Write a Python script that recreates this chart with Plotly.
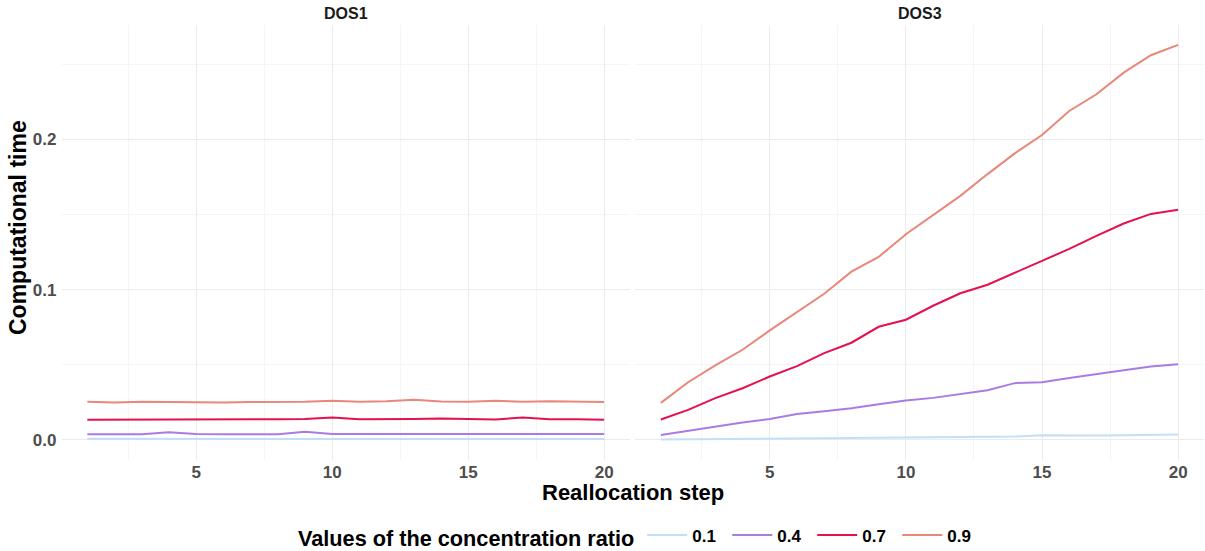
import plotly.graph_objects as go

steps = list(range(1, 21))
ratios = ["0.1", "0.4", "0.7", "0.9"]
colors = ["#C3DFF5", "#A97CE3", "#E5114E", "#E8877A"]

dos1_01 = [0.0008, 0.0007, 0.0007, 0.0007, 0.0006, 0.0006, 0.0006, 0.0006, 0.0006, 0.0006,
           0.0006, 0.0006, 0.0006, 0.0006, 0.0006, 0.0006, 0.0006, 0.0006, 0.0006, 0.0006]
dos1_04 = [0.0038, 0.0037, 0.0038, 0.0052, 0.0039, 0.0038, 0.0038, 0.0038, 0.0054, 0.0040,
           0.0040, 0.0040, 0.0039, 0.0039, 0.0039, 0.0039, 0.0039, 0.0039, 0.0039, 0.0040]
dos1_07 = [0.0135, 0.0135, 0.0134, 0.0135, 0.0135, 0.0135, 0.0138, 0.0138, 0.0140, 0.0150,
           0.0138, 0.0137, 0.0139, 0.0143, 0.0137, 0.0136, 0.0150, 0.0138, 0.0138, 0.0135]
dos1_09 = [0.0254, 0.0249, 0.0254, 0.0252, 0.0252, 0.0249, 0.0253, 0.0254, 0.0254, 0.0261,
           0.0255, 0.0257, 0.0268, 0.0256, 0.0255, 0.0261, 0.0254, 0.0258, 0.0258, 0.0253]

dos3_01 = [0.0003, 0.0004, 0.0005, 0.0006, 0.0008, 0.0010, 0.0011, 0.0012, 0.0014, 0.0016,
           0.0018, 0.0020, 0.0021, 0.0023, 0.0031, 0.0029, 0.0030, 0.0032, 0.0034, 0.0036]
dos3_04 = [0.0033, 0.0062, 0.0089, 0.0116, 0.0140, 0.0173, 0.0191, 0.0211, 0.0238, 0.0262,
           0.0280, 0.0307, 0.0331, 0.0378, 0.0384, 0.0413, 0.0440, 0.0464, 0.0489, 0.0504]
dos3_07 = [0.0136, 0.0200, 0.0278, 0.0344, 0.0422, 0.0491, 0.0578, 0.0647, 0.0753, 0.0800,
           0.0893, 0.0976, 0.1033, 0.1113, 0.1196, 0.1271, 0.1358, 0.1440, 0.1504, 0.1531]
dos3_09 = [0.0247, 0.0384, 0.0496, 0.0600, 0.0729, 0.0851, 0.0973, 0.1120, 0.1218, 0.1369,
           0.1496, 0.1624, 0.1769, 0.1907, 0.2029, 0.2189, 0.2300, 0.2444, 0.2560, 0.2629]

panels = ["DOS1", "DOS3"]
x_ticks = [5, 10, 15, 20]
y_ticks = [0.0, 0.1, 0.2]
y_tick_labels = ["0.0", "0.1", "0.2"]

dos1 = [dos1_01, dos1_04, dos1_07, dos1_09]
dos3 = [dos3_01, dos3_04, dos3_07, dos3_09]

FONT = "Liberation Sans, Arial, sans-serif"

fig = go.Figure()
for i, r in enumerate(ratios):
    fig.add_trace(go.Scatter(x=steps, y=dos1[i], mode="lines", name=r, legendgroup=r,
                             line=dict(color=colors[i], width=2), xaxis="x", yaxis="y"))
    fig.add_trace(go.Scatter(x=steps, y=dos3[i], mode="lines", name=r, legendgroup=r,
                             showlegend=False,
                             line=dict(color=colors[i], width=2), xaxis="x2", yaxis="y2"))

W, H = 1205, 551
ydom = [1 - 459.8 / H, 1 - 25 / H]
grid_major = "#EBEBEB"
grid_minor = "#F5F5F5"
tickfont = dict(family=FONT, size=17, color="#4D4D4D", weight="bold")

xcommon = dict(range=[0.05, 20.95], tickmode="array", tickvals=x_ticks,
               ticktext=[str(v) for v in x_ticks], showgrid=True, gridcolor=grid_major,
               gridwidth=1, zeroline=False, showline=False, ticks="", tickfont=tickfont,
               minor=dict(tick0=0, dtick=2.5, showgrid=True, gridcolor=grid_minor, gridwidth=1),
               fixedrange=True, automargin=False)
ycommon = dict(range=[-0.0132, 0.2761], domain=ydom, tickmode="array", tickvals=y_ticks,
               ticktext=y_tick_labels, showgrid=True, gridcolor=grid_major, gridwidth=1,
               zeroline=False, showline=False, ticks="", tickfont=tickfont,
               minor=dict(tick0=0, dtick=0.05, showgrid=True, gridcolor=grid_minor, gridwidth=1),
               fixedrange=True, automargin=False)

xl = dict(xcommon); xl.update(domain=[61.5 / W, 630 / W], anchor="y")
xr = dict(xcommon); xr.update(domain=[635 / W, 1204 / W], anchor="y2")
yl = dict(ycommon); yl.update(anchor="x", ticklabelstandoff=4)
yr = dict(ycommon); yr.update(anchor="x2", matches="y", showticklabels=False)

annotations = [
    dict(text="DOS1", x=(61.5 + 630) / 2 / W, y=1 - 13.3 / H, xref="paper", yref="paper",
         showarrow=False, font=dict(family=FONT, size=16, color="#1A1A1A", weight="bold"),
         xanchor="center", yanchor="middle"),
    dict(text="DOS3", x=(635 + 1204) / 2 / W, y=1 - 13.3 / H, xref="paper", yref="paper",
         showarrow=False, font=dict(family=FONT, size=16, color="#1A1A1A", weight="bold"),
         xanchor="center", yanchor="middle"),
    dict(text="Reallocation step", x=633 / W, y=1 - 492 / H, xref="paper", yref="paper",
         showarrow=False, font=dict(family=FONT, size=22, color="black", weight="bold"),
         xanchor="center", yanchor="middle"),
    dict(text="Computational time", x=18 / W, y=1 - 228 / H, xref="paper", yref="paper",
         showarrow=False, textangle=-90,
         font=dict(family=FONT, size=23, color="black", weight="bold"),
         xanchor="center", yanchor="middle"),
]

fig.update_layout(
    width=W, height=H,
    margin=dict(l=0, r=0, t=0, b=0, autoexpand=False),
    paper_bgcolor="white", plot_bgcolor="white",
    xaxis=xl, xaxis2=xr, yaxis=yl, yaxis2=yr,
    annotations=annotations,
    showlegend=True,
    legend=dict(orientation="h", x=296 / W, xanchor="left", y=1 - 537 / H, yanchor="middle",
                title=dict(text="Values of the concentration ratio",
                           font=dict(family=FONT, size=21.7, color="black", weight="bold"),
                           side="left"),
                font=dict(family=FONT, size=17, color="black", weight="bold"),
                itemwidth=40, entrywidth=30, entrywidthmode="pixels",
                bgcolor="rgba(0,0,0,0)"),
    font=dict(family=FONT),
)

fig.write_html("out.html", config={"displayModeBar": False},
               post_script="document.body.style.margin='0';document.body.style.padding='0';")
